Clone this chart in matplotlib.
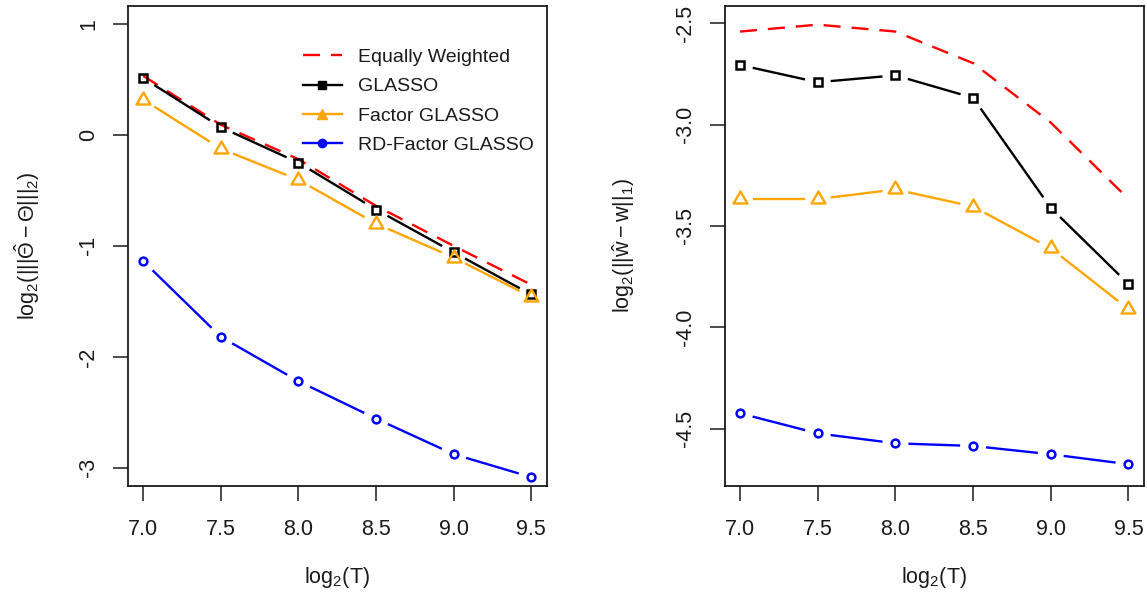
import numpy as np
import matplotlib
matplotlib.use("Agg")
import matplotlib.pyplot as plt
from matplotlib.lines import Line2D
from matplotlib.path import Path

# ---------------- data ----------------
log2T = [7.0, 7.5, 8.0, 8.5, 9.0, 9.5]
xtick_labels = ["7.0", "7.5", "8.0", "8.5", "9.0", "9.5"]

series_names = ["Equally Weighted", "GLASSO", "Factor GLASSO", "RD-Factor GLASSO"]

# left panel: log2(|||Theta_hat - Theta|||_2)
left_ew = [0.53, 0.09, -0.22, -0.64, -1.00, -1.35]
left_glasso = [0.511, 0.068, -0.251, -0.673, -1.058, -1.438]
left_factor = [0.316, -0.125, -0.406, -0.80, -1.105, -1.46]
left_rd = [-1.139, -1.82, -2.219, -2.556, -2.876, -3.083]
left_yticks = [-3, -2, -1, 0, 1]
left_yticklabels = ["-3", "-2", "-1", "0", "1"]

# right panel: log2(||w_hat - w||_1)
right_ew = [-2.541, -2.507, -2.541, -2.697, -2.99, -3.367]
right_glasso = [-2.706, -2.791, -2.757, -2.868, -3.411, -3.786]
right_factor = [-3.367, -3.367, -3.32, -3.404, -3.61, -3.91]
right_rd = [-4.424, -4.523, -4.572, -4.585, -4.626, -4.675]
right_yticks = [-4.5, -4.0, -3.5, -3.0, -2.5]
right_yticklabels = ["-4.5", "-4.0", "-3.5", "-3.0", "-2.5"]

# ---------------- style ----------------
plt.rcParams["font.family"] = ["Liberation Sans", "DejaVu Sans"]
plt.rcParams["mathtext.fontset"] = "custom"
plt.rcParams["mathtext.rm"] = "Liberation Sans"
plt.rcParams["mathtext.it"] = "Liberation Sans"
plt.rcParams["mathtext.bf"] = "Liberation Sans:bold"
plt.rcParams["axes.unicode_minus"] = False

RED, BLACK, ORANGE, BLUE = "#FF0000", "#000000", "#FFA500", "#0000FF"
TXT = "#1a1a1a"
LW = 1.7
DASH = (0, (7.2, 4.65))
GAP = 13  # pixels gap around points (R type="b")
TRI = Path([(0, 1), (-0.866, -0.5), (0.866, -0.5), (0, 1)],
           [Path.MOVETO, Path.LINETO, Path.LINETO, Path.CLOSEPOLY])

W, H = 1147, 597
fig = plt.figure(figsize=(W / 100, H / 100), dpi=100)

axL = fig.add_axes([127.8 / W, 1 - 485.7 / H, 418.9 / W, 479.7 / H])
axR = fig.add_axes([724.5 / W, 1 - 485.7 / H, 419.5 / W, 479.7 / H])


def style_axes(ax, ylim, yticks, yticklabels, ylabel):
    ax.set_xlim(6.9, 9.6)
    ax.set_ylim(*ylim)
    ax.set_xticks(log2T)
    ax.set_xticklabels(xtick_labels)
    ax.set_yticks(yticks)
    ax.set_yticklabels(yticklabels)
    for s in ax.spines.values():
        s.set_linewidth(1.3)
        s.set_color(TXT)
    ax.tick_params(axis="both", direction="out", length=10.8, width=1.1,
                   color=TXT, labelsize=15.5, labelcolor=TXT)
    ax.tick_params(axis="x", pad=13.5)
    ax.tick_params(axis="y", pad=10.0)
    for lab in ax.get_yticklabels():
        lab.set_rotation(90)
        lab.set_va("center")
    ax.set_xlabel(r"$\mathrm{log}_2(\mathrm{T})$", fontsize=15.5, color=TXT)
    ax.xaxis.set_label_coords(0.5, -0.1924)
    ax.xaxis.label.set_va("center")
    ax.set_ylabel(ylabel, fontsize=15.5, color=TXT)
    ax.yaxis.set_label_coords(-0.2413, 0.5)
    ax.yaxis.label.set_va("center")


def gapped(ax, x, y, gap, **kw):
    T = ax.transData
    P = T.transform(np.column_stack([x, y]))
    inv = T.inverted()
    for p0, p1 in zip(P[:-1], P[1:]):
        d = p1 - p0
        L = np.hypot(d[0], d[1])
        if L <= 2 * gap:
            continue
        u = d / L
        seg = inv.transform(np.vstack([p0 + u * gap, p1 - u * gap]))
        ax.plot(seg[:, 0], seg[:, 1], solid_capstyle="butt", **kw)


def draw_panel(ax, ew, gl, fa, rd):
    ax.plot(log2T, ew, color=RED, lw=LW, ls=DASH, dash_capstyle="butt")
    gapped(ax, log2T, gl, GAP, color=BLACK, lw=LW)
    ax.plot(log2T, gl, ls="none", marker="s", ms=6.3, mew=1.8, mfc="none", mec=BLACK)
    gapped(ax, log2T, fa, GAP, color=ORANGE, lw=LW)
    ax.plot(log2T, fa, ls="none", marker=TRI, ms=11.5, mew=1.7, mfc="none", mec=ORANGE)
    gapped(ax, log2T, rd, GAP, color=BLUE, lw=LW)
    ax.plot(log2T, rd, ls="none", marker="o", ms=5.6, mew=1.8, mfc="none", mec=BLUE)


style_axes(axL, (-3.16, 1.16), left_yticks, left_yticklabels,
           r"$\mathrm{log}_2(|||\hat{\Theta} - \Theta|||_2)$")
style_axes(axR, (-4.781, -2.415), right_yticks, right_yticklabels,
           r"$\mathrm{log}_2(||\hat{w} - w||_1)$")

draw_panel(axL, left_ew, left_glasso, left_factor, left_rd)
draw_panel(axR, right_ew, right_glasso, right_factor, right_rd)

handles = [
    Line2D([], [], color=RED, lw=LW, ls=DASH),
    Line2D([], [], color=BLACK, lw=LW, marker="s", ms=6, mfc=BLACK, mec=BLACK),
    Line2D([], [], color=ORANGE, lw=LW, marker="^", ms=7, mfc=ORANGE, mec=ORANGE),
    Line2D([], [], color=BLUE, lw=LW, marker="o", ms=6, mfc=BLUE, mec=BLUE),
]
leg = axL.legend(handles, series_names, loc="upper left",
                 bbox_to_anchor=(303 / W, 1 - 48.5 / H), bbox_transform=fig.transFigure,
                 frameon=False, fontsize=14, handlelength=2.0, handletextpad=0.85,
                 labelspacing=0.6, borderpad=0, borderaxespad=0)
for t in leg.get_texts():
    t.set_color(TXT)

fig.savefig("out.png", dpi=100)
